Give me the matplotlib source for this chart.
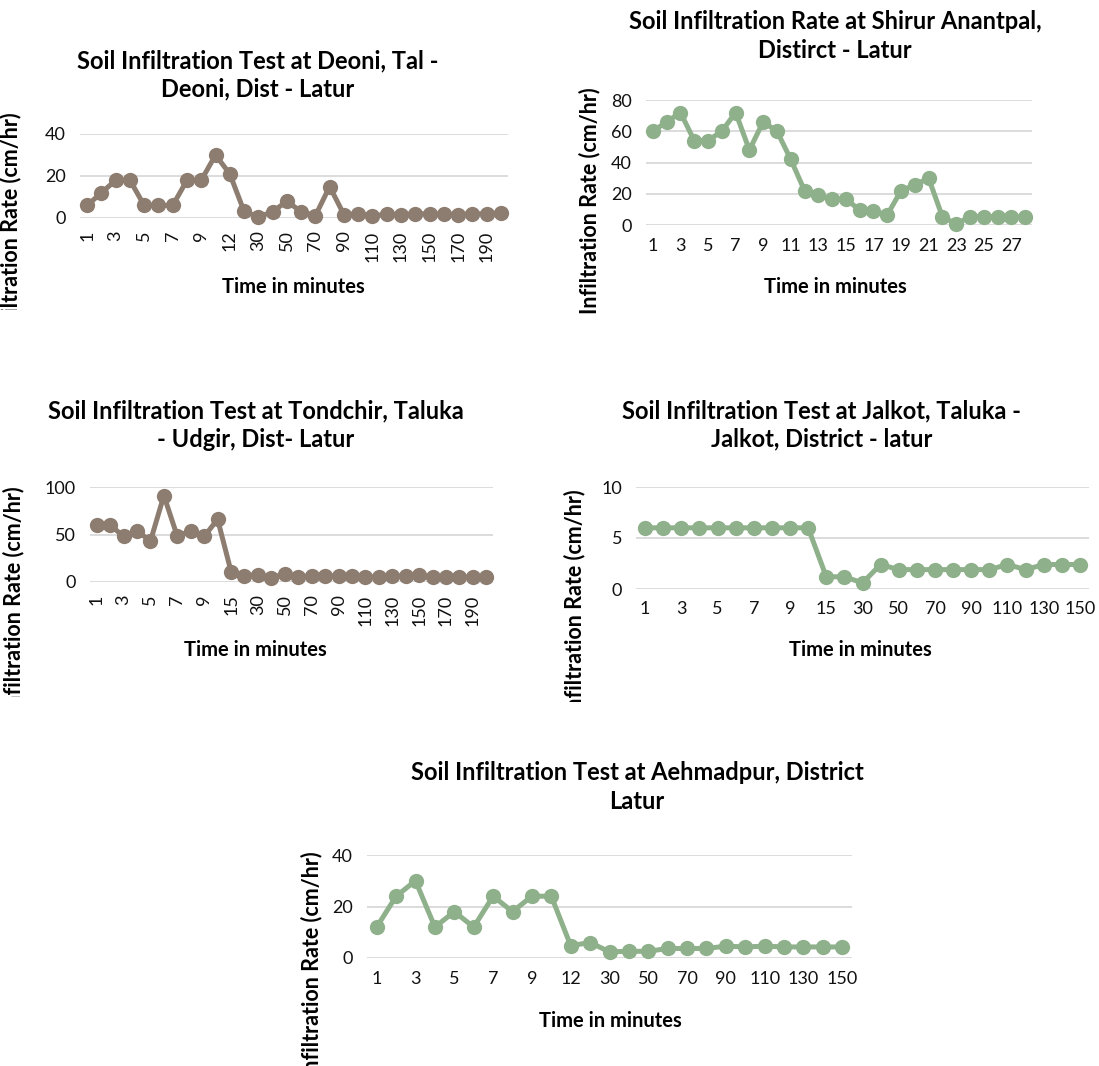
import matplotlib
matplotlib.use("Agg")
import matplotlib.pyplot as plt
from matplotlib.transforms import Bbox, TransformedBbox

plt.rcParams['font.family'] = ['Lato', 'DejaVu Sans']

# --- Infiltration test data (time in minutes, rate in cm/hr) ---
deoni_time = [1, 2, 3, 4, 5, 6, 7, 8, 9, 10, 12, 20, 30, 40, 50, 60, 70, 80, 90, 100,
              110, 120, 130, 140, 150, 160, 170, 180, 190, 200]
deoni_rate = [6, 12, 18, 18, 6, 6, 6, 18, 18, 30, 21, 3.2, 0.5, 3, 8, 3, 1.1, 15, 1.6, 2,
              0.8, 2, 1.6, 2, 2, 2, 1.6, 2, 2, 2.4]

shirur_time = list(range(1, 29))
shirur_rate = [60, 66, 72, 54, 54, 60, 72, 48, 66, 60, 42, 22, 19, 16.6, 16.6, 9.6, 9, 6.4,
               22, 25.6, 30, 5.3, 0.6, 5.3, 5.3, 5.3, 5.3, 5.3]

tondchir_time = [1, 2, 3, 4, 5, 6, 7, 8, 9, 10, 15, 20, 30, 40, 50, 60, 70, 80, 90, 100,
                 110, 120, 130, 140, 150, 160, 170, 180, 190, 200]
tondchir_rate = [60, 60, 48, 54, 43, 91, 48, 54, 48, 66, 11, 6.7, 7.7, 4.2, 8.8, 5.3, 6.7, 6,
                 6.7, 6.7, 5.3, 5.3, 6, 6.7, 7.7, 5.3, 5.3, 5.3, 5.3, 5.3]

jalkot_time = [1, 2, 3, 4, 5, 6, 7, 8, 9, 10, 15, 20, 30, 40, 50, 60, 70, 80, 90, 100,
               110, 120, 130, 140, 150]
jalkot_rate = [6, 6, 6, 6, 6, 6, 6, 6, 6, 6, 1.2, 1.2, 0.6, 2.4, 1.9, 1.9, 1.9, 1.9, 1.9,
               1.9, 2.4, 1.9, 2.4, 2.4, 2.4]

aehmadpur_time = [1, 2, 3, 4, 5, 6, 7, 8, 9, 10, 12, 20, 30, 40, 50, 60, 70, 80, 90, 100,
                  110, 120, 130, 140, 150]
aehmadpur_rate = [12, 24, 30, 12, 18, 12, 24, 18, 24, 24, 4.8, 6, 2.4, 2.6, 2.6, 3.7, 3.7,
                  3.7, 4.6, 4.3, 4.6, 4.3, 4.3, 4.3, 4.3]

BROWN = '#8d7d70'
GREEN = '#8eb08a'
GRID = '#d9d9d9'

W, H = 1099, 1066
fig = plt.figure(figsize=(W / 100, H / 100), dpi=100)
fig.patch.set_facecolor('white')


def px(x, y):
    return x / W, 1 - y / H


def draw_chart(times, rates, color, box, ymax, ystep, rotate, title, title_xy,
               xlabel_xy, ylabel_xy, clip_bottom):
    left, right, top, bottom = box
    ax = fig.add_axes([left / W, 1 - bottom / H, (right - left) / W, (bottom - top) / H])
    n = len(times)
    pos = list(range(n))
    ax.plot(pos, rates, color=color, lw=3.6, marker='o', ms=11,
            markeredgewidth=0, solid_joinstyle='round', clip_on=False, zorder=3)
    ax.set_xlim(-0.5, n - 0.5)
    ax.set_ylim(0, ymax)
    ax.set_yticks(range(0, ymax + 1, ystep))
    ax.set_xticks(pos)
    ax.set_xticklabels([str(t) if i % 2 == 0 else '' for i, t in enumerate(times)],
                       rotation=90 if rotate else 0)
    ax.tick_params(length=0, labelsize=13, labelcolor='#111111')
    ax.tick_params(axis='x', pad=9)
    ax.tick_params(axis='y', pad=10)
    ax.grid(axis='y', color=GRID, lw=1.3)
    ax.set_axisbelow(True)
    for s in ax.spines.values():
        s.set_visible(False)

    tx, ty = px(*title_xy)
    fig.text(tx, ty, title, ha='center', va='center', fontsize=17, fontweight='bold',
             linespacing=1.3)
    lx, ly = px(*xlabel_xy)
    fig.text(lx, ly, 'Time in minutes', ha='center', va='center', fontsize=14.5,
             fontweight='bold')
    # axis title is cut off by the chart frame, as in the original layout
    yx, yy = px(*ylabel_xy)
    yl = fig.text(yx, yy, 'Infiltration Rate (cm/hr)', ha='center', va='center',
                  rotation=90, fontsize=15.5, fontweight='bold')
    clip = Bbox.from_extents(0, 1 - clip_bottom / H, 1, 1)
    yl.set_clip_box(TransformedBbox(clip, fig.transFigure))
    yl.set_clip_on(True)
    return ax


draw_chart(deoni_time, deoni_rate, BROWN, (80, 508, 134, 218), 40, 20, True,
           'Soil Infiltration Test at Deoni, Tal -\nDeoni, Dist - Latur',
           (258, 75), (293, 287), (11, 226), 310)

draw_chart(shirur_time, shirur_rate, GREEN, (646, 1032, 100, 225), 80, 20, False,
           'Soil Infiltration Rate at Shirur Anantpal,\nDistirct - Latur',
           (835, 36), (835, 287), (590, 201), 1066)

draw_chart(tondchir_time, tondchir_rate, BROWN, (90, 493, 487, 582), 100, 50, True,
           'Soil Infiltration Test at Tondchir, Taluka\n- Udgir, Dist- Latur',
           (256, 425), (255, 650), (14, 600), 697)

draw_chart(jalkot_time, jalkot_rate, GREEN, (636, 1089, 487, 589), 10, 5, False,
           'Soil Infiltration Test at Jalkot, Taluka -\nJalkot, District - latur',
           (822, 425), (860, 650), (575, 603), 702)

draw_chart(aehmadpur_time, aehmadpur_rate, GREEN, (367, 852, 855, 958), 40, 20, False,
           'Soil Infiltration Test at Aehmadpur, District\nLatur',
           (637, 787), (610, 1021), (312, 965), 1066)

fig.savefig('out.png', dpi=100)
